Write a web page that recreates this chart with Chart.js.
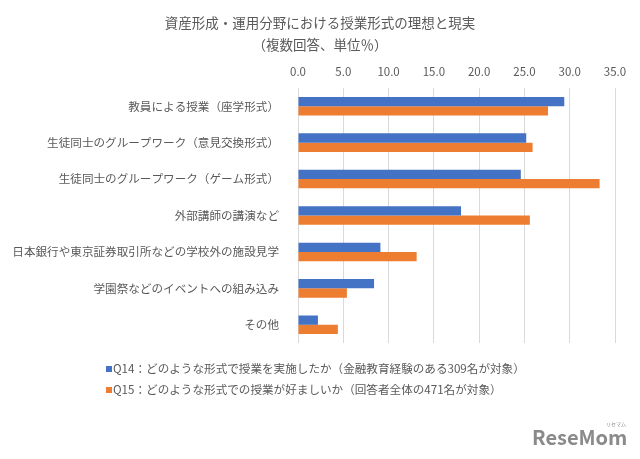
<!DOCTYPE html>
<html>
<head>
<meta charset="utf-8">
<script src="https://cdn.jsdelivr.net/npm/chart.js@4"></script>
<style>
  html, body { margin: 0; padding: 0; background: #fff; }
  #wrap { width: 640px; height: 459px; position: relative; }
</style>
</head>
<body>
<div id="wrap"><canvas id="chart"></canvas></div>
<script>
const categories = [
    '教員による授業（座学形式）',
    '生徒同士のグループワーク（意見交換形式）',
    '生徒同士のグループワーク（ゲーム形式）',
    '外部講師の講演など',
    '日本銀行や東京証券取引所などの学校外の施設見学',
    '学園祭などのイベントへの組み込み',
    'その他'
];
const q14Values = [29.4, 25.2, 24.6, 18.0, 9.1, 8.4, 2.2];
const q15Values = [27.6, 25.9, 33.3, 25.6, 13.1, 5.4, 4.4];
const seriesNames = [
    'Q14：どのような形式で授業を実施したか（金融教育経験のある309名が対象）',
    'Q15：どのような形式での授業が好ましいか（回答者全体の471名が対象）'
];
const titleLines = ['資産形成・運用分野における授業形式の理想と現実', '（複数回答、単位％）'];
const xTicks = [0, 5, 10, 15, 20, 25, 30, 35];

const BLUE = '#4472C4';
const ORANGE = '#ED7D31';
const TEXT = '#595959';
const FONT = "'Noto Sans CJK JP', 'Noto Sans', sans-serif";

// title, legend and watermark drawn by hand
const extras = {
    id: 'extras',
    afterDraw(chart) {
        const ctx = chart.ctx;
        ctx.save();
        ctx.fillStyle = TEXT;
        ctx.textAlign = 'center';
        ctx.textBaseline = 'middle';
        ctx.font = '13.5px ' + FONT;
        ctx.fillText(titleLines[0], 320, 23);
        ctx.fillText(titleLines[1], 320, 45);

        const colors = [BLUE, ORANGE];
        const rows = [369, 390];
        ctx.textAlign = 'left';
        ctx.font = '11.6px ' + FONT;
        for (let i = 0; i < 2; i++) {
            ctx.fillStyle = colors[i];
            ctx.fillRect(106, rows[i] - 3, 6, 6);
            ctx.fillStyle = TEXT;
            ctx.fillText(seriesNames[i], 113, rows[i]);
        }

        ctx.fillStyle = '#8a8a8a';
        ctx.font = 'bold 20px ' + FONT;
        ctx.textBaseline = 'alphabetic';
        ctx.fillText('ReseMom', 532, 445);
        ctx.font = '5px ' + FONT;
        ctx.fillText('リセマム', 606, 426);
        ctx.restore();
    }
};

new Chart(document.getElementById('chart'), {
    type: 'bar',
    data: {
        labels: categories,
        datasets: [
            { label: seriesNames[0], data: q14Values, backgroundColor: BLUE },
            { label: seriesNames[1], data: q15Values, backgroundColor: ORANGE }
        ]
    },
    options: {
        indexAxis: 'y',
        responsive: true,
        maintainAspectRatio: false,
        animation: false,
        layout: { padding: { top: 60, left: 0, right: 25, bottom: 116 } },
        datasets: { bar: { barPercentage: 1.0, categoryPercentage: 0.51 } },
        scales: {
            x: {
                position: 'top',
                min: 0,
                max: 35,
                afterBuildTicks: axis => { axis.ticks = xTicks.map(v => ({ value: v })); },
                afterFit: axis => { axis.height = 28; },
                ticks: {
                    color: TEXT,
                    padding: 9,
                    font: { family: FONT, size: 11.5 },
                    callback: v => Number(v).toFixed(1)
                },
                grid: { color: '#d9d9d9', drawTicks: false },
                border: { display: false }
            },
            y: {
                afterFit: axis => { axis.width = 298; },
                ticks: {
                    color: TEXT,
                    padding: 11,
                    font: { family: FONT, size: 11.6 }
                },
                grid: { display: false },
                border: { display: false }
            }
        },
        plugins: {
            legend: { display: false },
            title: { display: false },
            tooltip: { enabled: false }
        }
    },
    plugins: [extras]
});
</script>
</body>
</html>
